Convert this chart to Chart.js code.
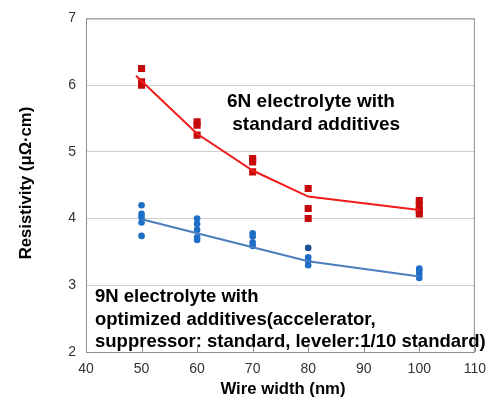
<!DOCTYPE html>
<html>
<head>
<meta charset="utf-8">
<script src="https://cdn.jsdelivr.net/npm/chart.js@4/dist/chart.umd.min.js"></script>
<style>
  html, body { margin: 0; padding: 0; background: #fff; }
</style>
</head>
<body>
<canvas id="chartRes" width="495" height="411"></canvas>
<script>
// measured points, 6N electrolyte (red squares)
const sixNWidths = [50, 50, 50, 60, 60, 60, 70, 70, 70, 80, 80, 80, 100, 100, 100, 100];
const sixNValues = [6.25, 6.05, 6.0, 5.45, 5.4, 5.25, 4.9, 4.85, 4.7, 4.45, 4.15, 4.0, 4.27, 4.2, 4.12, 4.07];

// measured points, 9N electrolyte (blue circles)
const nineNWidths = [50, 50, 50, 50, 50, 60, 60, 60, 60, 60, 70, 70, 70, 70, 80, 80, 80, 80, 100, 100, 100, 100];
const nineNValues = [4.2, 4.07, 4.02, 3.94, 3.74, 4.0, 3.92, 3.83, 3.72, 3.68, 3.78, 3.73, 3.64, 3.59, 3.56, 3.42, 3.36, 3.3, 3.25, 3.22, 3.17, 3.11];

// trend lines
const sixNTrendX = [49, 60, 70, 80, 100];
const sixNTrendY = [6.14, 5.27, 4.72, 4.33, 4.13];
const nineNTrendX = [50, 60, 70, 80, 100];
const nineNTrendY = [3.99, 3.78, 3.57, 3.36, 3.13];

const xTicks = [40, 50, 60, 70, 80, 90, 100, 110];
const yTicks = [2, 3, 4, 5, 6, 7];

const sixNLabel = ["6N electrolyte with", " standard additives"];
const nineNLabel = ["9N electrolyte with", "optimized additives(accelerator,", "suppressor: standard, leveler:1/10 standard)"];

const pts = (xs, ys) => xs.map((x, i) => ({ x: x, y: ys[i] }));

const extras = {
  id: "extras",
  beforeDatasetsDraw(chart) {
    const { ctx, chartArea: a, scales } = chart;
    ctx.save();
    // plot frame
    ctx.strokeStyle = "#8c8c8c";
    ctx.lineWidth = 1;
    ctx.strokeRect(a.left + 0.5, a.top + 0.5, a.right - a.left - 1, a.bottom - a.top);
    // small inward ticks on x axis
    xTicks.forEach(v => {
      const px = Math.round(scales.x.getPixelForValue(v)) + 0.5;
      ctx.beginPath();
      ctx.moveTo(px, a.bottom);
      ctx.lineTo(px, a.bottom - 5);
      ctx.stroke();
    });
    ctx.restore();
  },
  afterDraw(chart) {
    const { ctx } = chart;
    ctx.save();
    ctx.fillStyle = "#000";
    ctx.textAlign = "left";
    ctx.textBaseline = "alphabetic";
    ctx.font = "bold 19px 'Liberation Sans', Arial, sans-serif";
    sixNLabel.forEach((t, i) => ctx.fillText(t, 227, 107 + i * 23));
    ctx.font = "bold 18.5px 'Liberation Sans', Arial, sans-serif";
    nineNLabel.forEach((t, i) => ctx.fillText(t, 95, 302 + i * 22.5));

    // axis titles
    ctx.font = "bold 16.7px 'Liberation Sans', Arial, sans-serif";
    ctx.textAlign = "center";
    ctx.textBaseline = "middle";
    ctx.fillText("Wire width (nm)", 283, 389);
    ctx.translate(26, 183);
    ctx.rotate(-Math.PI / 2);
    ctx.fillText("Resistivity (μΩ·cm)", 0, 0);
    ctx.restore();
  }
};

new Chart(document.getElementById("chartRes").getContext("2d"), {
  type: "scatter",
  data: {
    datasets: [
      {
        label: "6N trend",
        type: "line",
        data: pts(sixNTrendX, sixNTrendY),
        borderColor: "#f01c1c",
        borderWidth: 2,
        pointRadius: 0,
        tension: 0,
        fill: false,
      },
      {
        label: "9N trend",
        type: "line",
        data: pts(nineNTrendX, nineNTrendY),
        borderColor: "#4a7ebf",
        borderWidth: 2,
        pointRadius: 0,
        tension: 0,
        fill: false,
      },
      {
        label: "6N",
        data: pts(sixNWidths, sixNValues),
        pointStyle: "rect",
        pointRadius: 5,
        backgroundColor: "#c40a0a",
        borderWidth: 0,
      },
      {
        label: "9N",
        data: pts(nineNWidths, nineNValues),
        pointStyle: "circle",
        pointRadius: 3.3,
        backgroundColor: c => (c.dataIndex === 14 ? "#1f4f96" : "#1e6ec8"),
        borderWidth: 0,
      },
    ],
  },
  options: {
    responsive: false,
    animation: false,
    devicePixelRatio: 1,
    layout: { padding: { top: 13, right: 20, left: 0, bottom: 0 } },
    plugins: {
      legend: { display: false },
      tooltip: { enabled: false },
    },
    scales: {
      x: {
        type: "linear",
        min: 40,
        max: 110,
        afterBuildTicks: s => { s.ticks = xTicks.map(v => ({ value: v })); },
        afterFit: s => { s.height = 59; },
        grid: { display: false, drawTicks: false },
        border: { display: false },
        ticks: {
          padding: 9,
          color: "#333",
          font: { family: "'Liberation Sans', Arial, sans-serif", size: 14 },
        },
      },
      y: {
        min: 2,
        max: 7,
        afterBuildTicks: s => { s.ticks = yTicks.map(v => ({ value: v })); },
        afterFit: s => { s.width = 86; },
        grid: { color: "#cfcfcf", drawTicks: false },
        border: { display: false },
        ticks: {
          padding: 10,
          color: "#333",
          font: { family: "'Liberation Sans', Arial, sans-serif", size: 14 },
        },
      },
    },
  },
  plugins: [extras],
});
</script>
</body>
</html>
